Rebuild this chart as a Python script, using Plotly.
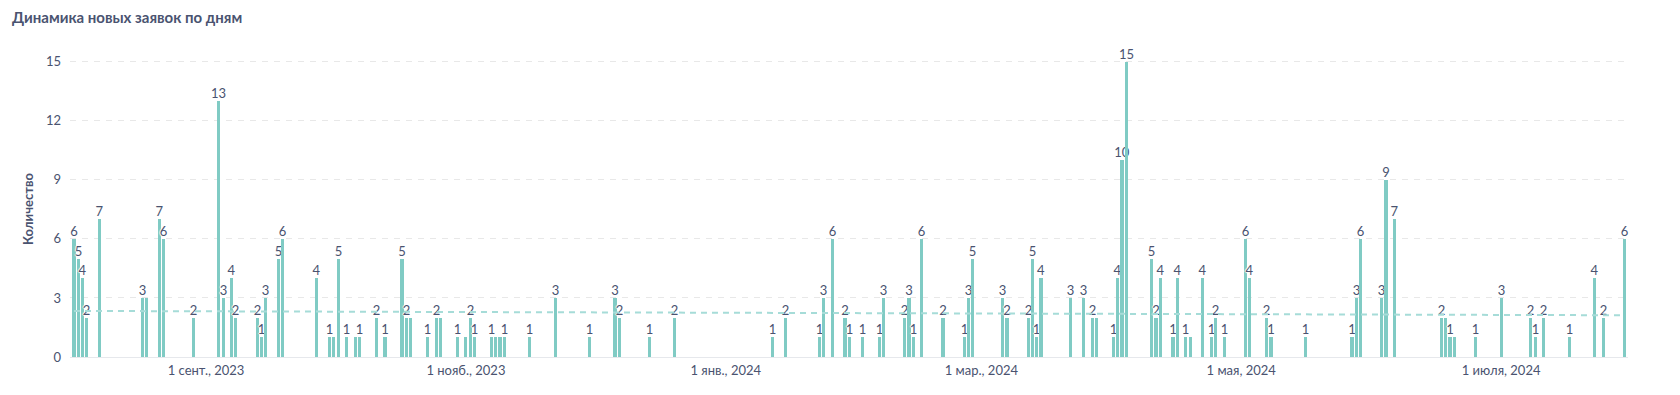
import plotly.graph_objects as go
import pandas as pd

# ---- data ----
dates = [
    "2023-08-01", "2023-08-02", "2023-08-03", "2023-08-04", "2023-08-07",
    "2023-08-17", "2023-08-18", "2023-08-21", "2023-08-22", "2023-08-29",
    "2023-09-04", "2023-09-05", "2023-09-07", "2023-09-08", "2023-09-13",
    "2023-09-14", "2023-09-15", "2023-09-18", "2023-09-19", "2023-09-27",
    "2023-09-30", "2023-10-01", "2023-10-02", "2023-10-04", "2023-10-06",
    "2023-10-07", "2023-10-11", "2023-10-13", "2023-10-17", "2023-10-18",
    "2023-10-19", "2023-10-23", "2023-10-25", "2023-10-26", "2023-10-30",
    "2023-11-01", "2023-11-02", "2023-11-03", "2023-11-07", "2023-11-08",
    "2023-11-09", "2023-11-10", "2023-11-16", "2023-11-22", "2023-11-30",
    "2023-12-06", "2023-12-07", "2023-12-14", "2023-12-20",
    "2024-01-12", "2024-01-15", "2024-01-23", "2024-01-24", "2024-01-26",
    "2024-01-29", "2024-01-30", "2024-02-02", "2024-02-06", "2024-02-07",
    "2024-02-12", "2024-02-13", "2024-02-14", "2024-02-16", "2024-02-21",
    "2024-02-26", "2024-02-27", "2024-02-28", "2024-03-06", "2024-03-07",
    "2024-03-12", "2024-03-13", "2024-03-14", "2024-03-15", "2024-03-22",
    "2024-03-25", "2024-03-27", "2024-03-28", "2024-04-01", "2024-04-02",
    "2024-04-03", "2024-04-04", "2024-04-10", "2024-04-11", "2024-04-12",
    "2024-04-15", "2024-04-16", "2024-04-18", "2024-04-19", "2024-04-22",
    "2024-04-24", "2024-04-25", "2024-04-27", "2024-05-02", "2024-05-03",
    "2024-05-07", "2024-05-08", "2024-05-16", "2024-05-27", "2024-05-28",
    "2024-05-29", "2024-06-03", "2024-06-04", "2024-06-06", "2024-06-17",
    "2024-06-18", "2024-06-19", "2024-06-20", "2024-06-25", "2024-07-01",
    "2024-07-08", "2024-07-09", "2024-07-11", "2024-07-17", "2024-07-23",
    "2024-07-25", "2024-07-30",
]
counts = [
    6, 5, 4, 2, 7,
    3, 3, 7, 6, 2,
    13, 3, 4, 2, 2,
    1, 3, 5, 6, 4,
    1, 1, 5, 1, 1,
    1, 2, 1, 5, 2,
    2, 1, 2, 2, 1,
    1, 2, 1, 1, 1,
    1, 1, 1, 3, 1,
    3, 2, 1, 2,
    1, 2, 1, 3, 6,
    2, 1, 1, 1, 3,
    2, 3, 1, 6, 2,
    1, 3, 5, 3, 2,
    2, 5, 1, 4, 3,
    3, 2, 2, 1, 4,
    10, 15, 5, 2, 4,
    1, 4, 1, 1, 4,
    1, 2, 1, 6, 4,
    2, 1, 1, 1, 3,
    6, 3, 9, 7, 2,
    2, 1, 1, 1, 3,
    2, 1, 2, 1, 4,
    2, 6,
]
# trend (dashed) line endpoints
trend_dates = ["2023-08-01", "2024-07-30"]
trend_values = [2.34, 2.12]

tick_dates = ["2023-09-01", "2023-11-01", "2024-01-01", "2024-03-01", "2024-05-01", "2024-07-01"]
tick_labels = ["1 сент., 2023", "1 нояб., 2023", "1 янв., 2024", "1 мар., 2024", "1 мая, 2024", "1 июля, 2024"]
y_ticks = [0, 3, 6, 9, 12, 15]

TEXT = "#4a5370"
BAR = "#80cbc4"
FONT = "Lato"
DAY_MS = 86400000

# hide value labels that would collide with an already shown label (same height, close dates)
dt = pd.to_datetime(dates)
shown = []
labels = []
for d, v in zip(dt, counts):
    clash = any(abs((d - sd).days) <= 2 and abs(v - sv) < 0.7 for sd, sv in shown)
    if clash:
        labels.append("")
    else:
        labels.append(str(v))
        shown.append((d, v))

halo = "1px 0px 1px #fff, -1px 0px 1px #fff, 0px 1px 1px #fff, 0px -1px 1px #fff"

fig = go.Figure()
fig.add_trace(go.Bar(
    x=dt, y=counts,
    width=0.74 * DAY_MS,
    marker=dict(color=BAR, line=dict(width=0)),
    text=labels,
    textposition="outside",
    constraintext="none",
    cliponaxis=False,
    textfont=dict(family=FONT, size=13, color=TEXT, shadow=halo),
    showlegend=False,
))
fig.add_trace(go.Scatter(
    x=pd.to_datetime(trend_dates), y=trend_values,
    mode="lines",
    line=dict(color="#a6dcd8", width=2, dash="6px,5px"),
    showlegend=False, hoverinfo="skip",
))

W, H = 1672, 387  # page body has an 8px margin
fig.update_layout(
    width=W, height=H,
    margin=dict(l=62, r=52, t=34, b=38),
    paper_bgcolor="white", plot_bgcolor="white",
    font=dict(family=FONT, color=TEXT),
    bargap=0,
    title=dict(
        text="<b>Динамика новых заявок по дням</b>",
        x=4 / W, xanchor="left", xref="container",
        y=1 - 10 / H, yanchor="middle", yref="container",
        font=dict(family=FONT, size=15, color=TEXT),
    ),
    xaxis=dict(
        type="date",
        range=["2023-07-31 01:30", "2024-07-30 19:00"],
        tickvals=pd.to_datetime(tick_dates), ticktext=tick_labels,
        tickfont=dict(family=FONT, size=13, color=TEXT),
        showgrid=False, zeroline=False,
        showline=True, linecolor="#e6e8ec", linewidth=1,
        ticks="", ticklabelstandoff=1,
    ),
    yaxis=dict(
        range=[0, 16],
        tickvals=y_ticks,
        tickfont=dict(family=FONT, size=13, color=TEXT),
        showgrid=True, gridcolor="#e8e8e8", griddash="6px,6px", gridwidth=1,
        zeroline=False, showline=False,
        ticks="", ticklabelstandoff=8,
    ),
    annotations=[dict(
        text="<b>Количество</b>", textangle=-90,
        xref="paper", yref="paper", x=(20 - 62) / 1558, y=(349 - 201) / 315,
        xanchor="center", yanchor="middle", showarrow=False,
        font=dict(family=FONT, size=13, color=TEXT),
    )],
)

fig.write_html("out.html")
